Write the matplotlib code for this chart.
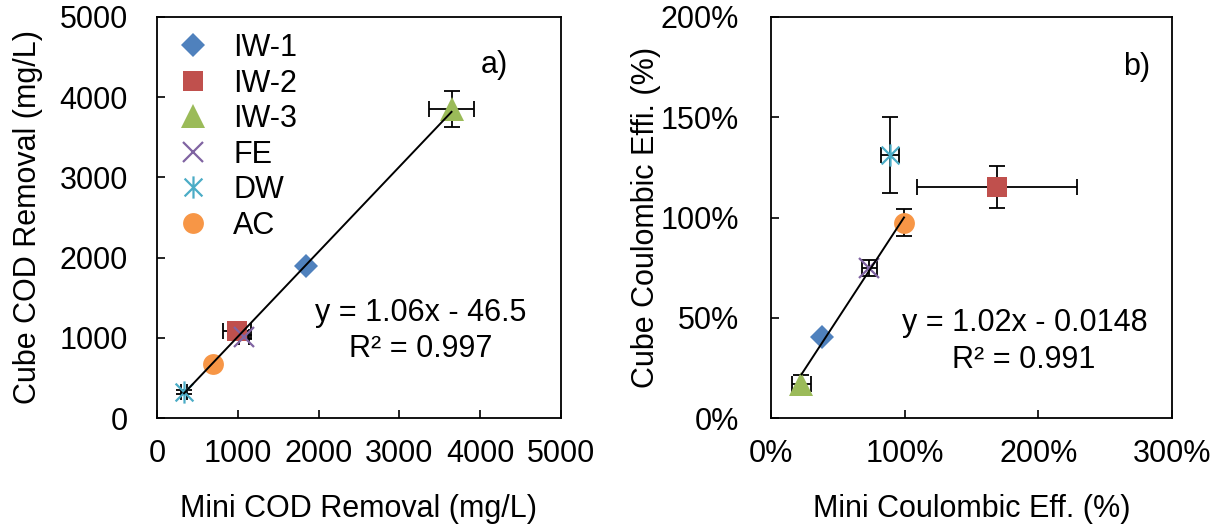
import matplotlib
matplotlib.use("Agg")
import matplotlib.pyplot as plt
from matplotlib.path import Path
from matplotlib.ticker import PercentFormatter


# -------------------------------------------------
# Data
# -------------------------------------------------

samples = ["IW-1", "IW-2", "IW-3", "FE", "DW", "AC"]

# a) COD removal, mg/L
mini_cod = [1850, 990, 3645, 1080, 335, 690]
cube_cod = [1890, 1090, 3850, 1010, 330, 675]
mini_cod_err = [30, 170, 280, 60, 40, 20]
cube_cod_err = [30, 40, 225, 30, 25, 20]

# b) Coulombic efficiency, fraction
mini_ce = [0.38, 1.69, 0.228, 0.735, 0.89, 0.995]
cube_ce = [0.405, 1.15, 0.172, 0.75, 1.31, 0.975]
mini_ce_err = [0.02, 0.60, 0.07, 0.055, 0.07, 0.02]
cube_ce_err = [0.015, 0.105, 0.04, 0.04, 0.19, 0.065]

# trend lines (Excel linear fit shown on the chart)
fit_a = {"slope": 1.06, "intercept": -46.5, "x": [335, 3645]}
fit_b = {"slope": 1.02, "intercept": -0.0148, "x": [0.228, 0.995]}

# -------------------------------------------------
# Style
# -------------------------------------------------

plt.rcParams["font.family"] = ["Liberation Sans", "DejaVu Sans"]
FS = 22

asterisk = Path(
    [(-1, -1), (1, 1), (-1, 1), (1, -1), (0, -1.25), (0, 1.25)],
    [Path.MOVETO, Path.LINETO, Path.MOVETO, Path.LINETO, Path.MOVETO, Path.LINETO],
)

styles = {
    "IW-1": dict(marker="D", ms=12.5, color="#4F81BD"),
    "IW-2": dict(marker="s", ms=15, color="#C0504D"),
    "IW-3": dict(marker="^", ms=17, color="#9BBB59"),
    "FE": dict(marker="x", ms=14, color="#8064A2", mew=1.6),
    "DW": dict(marker=asterisk, ms=16, color="#4BACC6", mew=1.6),
    "AC": dict(marker="o", ms=15, color="#F79646"),
}


def style_axes(ax):
    for sp in ax.spines.values():
        sp.set_linewidth(1.3)
    ax.tick_params(direction="in", length=6, width=1.2, labelsize=FS)
    ax.tick_params(axis="x", pad=15)
    ax.tick_params(axis="y", pad=21)


def draw_points(ax, xs, ys, xerr, yerr):
    for i, name in enumerate(samples):
        ax.errorbar(xs[i], ys[i], xerr=xerr[i], yerr=yerr[i], fmt="none",
                    ecolor="black", elinewidth=1.3, capsize=5.5, capthick=1.3,
                    zorder=2)
        st = dict(styles[name])
        ax.plot(xs[i], ys[i], linestyle="none", marker=st.pop("marker"),
                markersize=st.pop("ms"), color=st.pop("color"),
                mew=st.pop("mew", 0), label=name, zorder=3)


def draw_fit(ax, fit):
    xs = fit["x"]
    ys = [fit["slope"] * v + fit["intercept"] for v in xs]
    ax.plot(xs, ys, color="black", lw=1.4, zorder=4)


# -------------------------------------------------
# Figure
# -------------------------------------------------

fig = plt.figure(figsize=(12.22, 5.29), dpi=100)
ax_a = fig.add_axes([157 / 1222, 111 / 529, 404 / 1222, 401 / 529])
ax_b = fig.add_axes([771 / 1222, 111 / 529, 401 / 1222, 401 / 529])

# a) COD removal
draw_points(ax_a, mini_cod, cube_cod, mini_cod_err, cube_cod_err)
draw_fit(ax_a, fit_a)
ax_a.set_xlim(0, 5000)
ax_a.set_ylim(0, 5000)
ax_a.set_xticks(range(0, 5001, 1000))
ax_a.set_yticks(range(0, 5001, 1000))
style_axes(ax_a)
ax_a.set_xlabel("Mini COD Removal (mg/L)", fontsize=FS)
ax_a.set_ylabel("Cube COD Removal (mg/L)", fontsize=FS)
ax_a.xaxis.set_label_coords(0.5, -0.19)
ax_a.yaxis.set_label_coords(-0.283, 0.5)
ax_a.text(0.653, 0.262, "y = 1.06x - 46.5", transform=ax_a.transAxes,
          ha="center", va="center", fontsize=FS)
ax_a.text(0.653, 0.172, "R² = 0.997", transform=ax_a.transAxes,
          ha="center", va="center", fontsize=FS)
ax_a.text(0.834, 0.88, "a)", transform=ax_a.transAxes,
          ha="center", va="center", fontsize=FS)
ax_a.legend(loc="upper left", bbox_to_anchor=(0.052, 0.96), frameon=False,
            fontsize=FS, borderpad=0, borderaxespad=0, handlelength=1.0,
            handletextpad=0.8, labelspacing=0.18, numpoints=1)

# b) Coulombic efficiency
draw_points(ax_b, mini_ce, cube_ce, mini_ce_err, cube_ce_err)
draw_fit(ax_b, fit_b)
ax_b.set_xlim(0, 3)
ax_b.set_ylim(0, 2)
ax_b.set_xticks([0, 1, 2, 3])
ax_b.set_yticks([0, 0.5, 1, 1.5, 2])
ax_b.xaxis.set_major_formatter(PercentFormatter(1.0, decimals=0))
ax_b.yaxis.set_major_formatter(PercentFormatter(1.0, decimals=0))
style_axes(ax_b)
ax_b.tick_params(axis="y", pad=23)
ax_b.set_xlabel("Mini Coulombic Eff. (%)", fontsize=FS)
ax_b.set_ylabel("Cube Coulombic Effi. (%)", fontsize=FS)
ax_b.xaxis.set_label_coords(0.5, -0.19)
ax_b.yaxis.set_label_coords(-0.274, 0.5)
ax_b.text(0.633, 0.237, "y = 1.02x - 0.0148", transform=ax_b.transAxes,
          ha="center", va="center", fontsize=FS)
ax_b.text(0.631, 0.145, "R² = 0.991", transform=ax_b.transAxes,
          ha="center", va="center", fontsize=FS)
ax_b.text(0.913, 0.875, "b)", transform=ax_b.transAxes,
          ha="center", va="center", fontsize=FS)

fig.savefig("out.png", dpi=100)
